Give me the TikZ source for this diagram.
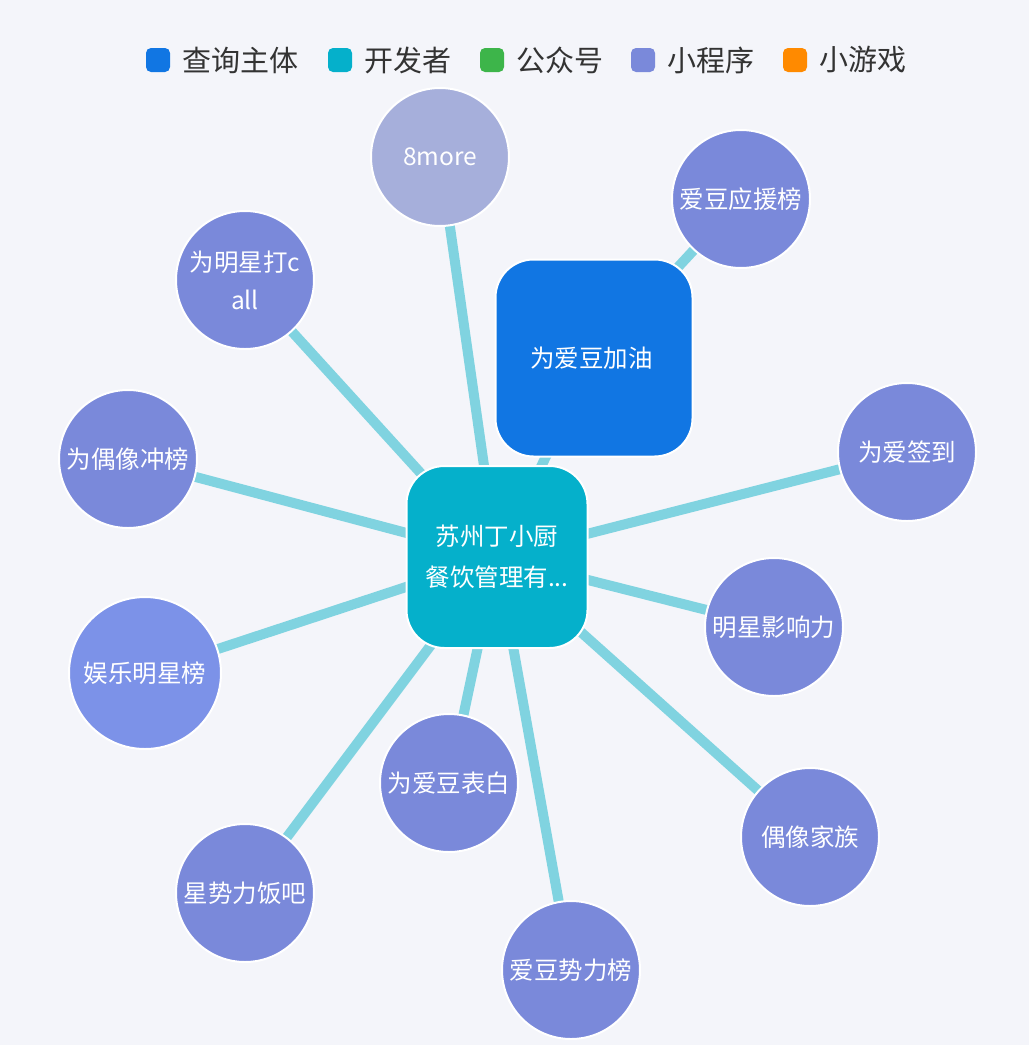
\documentclass[tikz,border=0pt]{standalone}
\usepackage{fontspec}
\setmainfont{Noto Sans CJK SC}
\usetikzlibrary{positioning}
\definecolor{bg}{HTML}{F4F5FA}
\definecolor{query}{HTML}{1176E3}
\definecolor{dev}{HTML}{05B0CB}
\definecolor{mp}{HTML}{3DB54A}
\definecolor{mini}{HTML}{7A89DA}
\definecolor{miniLight}{HTML}{7C92E8}
\definecolor{moreC}{HTML}{A6AFDB}
\definecolor{game}{HTML}{FF8A00}
\definecolor{link}{HTML}{80D3E0}
\definecolor{legendtext}{HTML}{333333}
\pgfdeclarelayer{back}
\pgfsetlayers{back,main}

\begin{document}
\begin{tikzpicture}[
    x=1pt, y=-1pt,
    every node/.style={text=white},
    app/.style={
        circle, draw=white, line width=2pt,
        fill=mini, minimum size=138pt, inner sep=0pt,
        align=center, font=\fontsize{24.5}{38}\selectfont,
    },
    subject/.style={
        rectangle, rounded corners=38pt,
        draw=white, line width=2pt,
        align=center, font=\fontsize{24.5}{41}\selectfont,
    },
    link/.style={draw=link, line width=10pt},
    swatch/.style={rectangle, rounded corners=5pt, minimum size=24pt, inner sep=0pt},
    legendlabel/.style={text=legendtext, font=\fontsize{29}{32}\selectfont, inner sep=0pt, right=12pt of #1},
]

% Background
\begin{pgfonlayer}{back}
\fill[bg] (0,0) rectangle (1029,1045);
\end{pgfonlayer}

% =============================================================
% LEGEND
% =============================================================
\node[swatch, fill=query] (sw1) at (158,60) {};
\node[legendlabel=sw1] (lg1) {查询主体};
\node[swatch, fill=dev] (sw2) at (340,60) {};
\node[legendlabel=sw2] (lg2) {开发者};
\node[swatch, fill=mp] (sw3) at (492,60) {};
\node[legendlabel=sw3] (lg3) {公众号};
\node[swatch, fill=mini] (sw4) at (643,60) {};
\node[legendlabel=sw4] (lg4) {小程序};
\node[swatch, fill=game] (sw5) at (795,60) {};
\node[legendlabel=sw5] (lg5) {小游戏};

% =============================================================
% SUBJECTS
% =============================================================
\node[subject, fill=dev, minimum width=181pt, minimum height=182pt] (hub) at (497,557) {
    苏州丁小厨\\餐饮管理有...
};
\node[subject, fill=query, minimum size=197pt] (jiayou) at (594,358) {
    为爱豆加油
};

% =============================================================
% MINI PROGRAMS
% =============================================================
\node[app, fill=moreC] (more) at (440,157) {8more};
\node[app] (yingyuan) at (741,199) {爱豆应援榜};
\node[app] (dacall) at (245,280) {为明星打c\\all};
\node[app] (chongbang) at (128,459) {为偶像冲榜};
\node[app] (qiandao) at (907,452) {为爱签到};
\node[app] (yingxiang) at (774,627) {明星影响力};
\node[app, fill=miniLight, minimum size=152pt] (yule) at (145,673) {娱乐明星榜};
\node[app] (biaobai) at (449,783) {为爱豆表白};
\node[app] (jiazu) at (810,837) {偶像家族};
\node[app] (fanba) at (245,893) {星势力饭吧};
\node[app] (shili) at (571,970) {爱豆势力榜};

% Links
\begin{pgfonlayer}{back}
\foreach \n in {more,dacall,chongbang,qiandao,yingxiang,yule,biaobai,jiazu,fanba,shili,jiayou}
    \draw[link] (hub.center) -- (\n.center);
\draw[link] (jiayou.center) -- (yingyuan.center);
\end{pgfonlayer}

\end{tikzpicture}
\end{document}
